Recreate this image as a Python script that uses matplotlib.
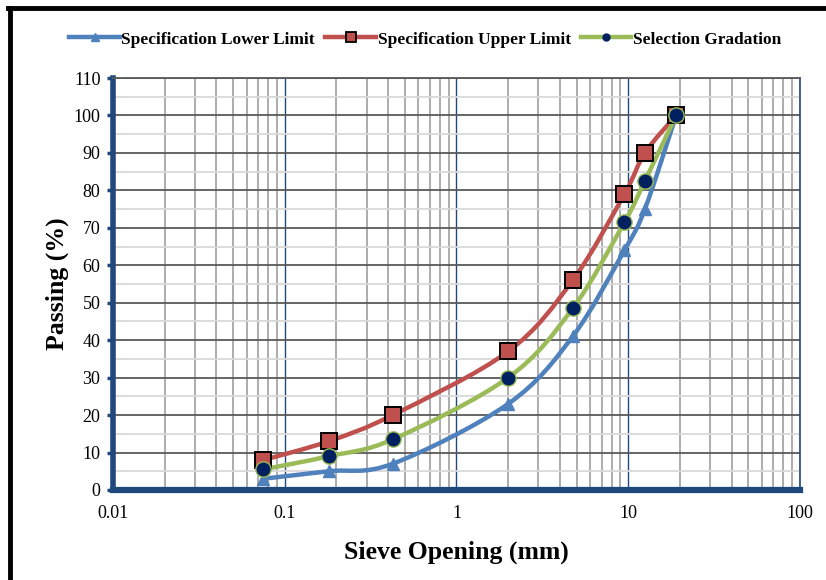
import numpy as np
import matplotlib
matplotlib.use("Agg")
import matplotlib.pyplot as plt
from matplotlib.path import Path
from matplotlib.patches import PathPatch
from matplotlib.lines import Line2D
from matplotlib.ticker import FixedLocator, NullFormatter

plt.rcParams["font.family"] = ["Liberation Serif", "DejaVu Serif"]

# sieve sizes (mm) and percent passing
sieve_mm = [0.075, 0.18, 0.425, 2.0, 4.75, 9.5, 12.5, 19.0]
lower_limit = [3, 5, 7, 23, 41, 64, 75, 100]
upper_limit = [8, 13, 20, 37, 56, 79, 90, 100]
selection = [5.5, 9, 13.5, 30, 48.5, 71.5, 82.5, 100]

series_names = ["Specification Lower Limit", "Specification Upper Limit", "Selection Gradation"]
x_ticks = [0.01, 0.1, 1, 10, 100]
x_tick_labels = ["0.01", "0.1", "1", "10", "100"]
y_ticks = list(range(0, 111, 10))

blue = "#4F81BD"
red = "#C0504D"
green = "#9BBB59"
navy = "#002060"
axis_blue = "#1F497D"

fig = plt.figure(figsize=(8.26, 5.8), dpi=100)
ax = fig.add_axes([0.1368, 0.1552, 0.9685 - 0.1368, 0.8655 - 0.1552])
ax.set_xscale("log")
ax.set_xlim(0.01, 100)
ax.set_ylim(0, 110)


def smooth_curve(xs, ys, color, lw):
    # Excel-style smoothed line: Catmull-Rom converted to cubic Beziers in display space
    pts = ax.transData.transform(np.column_stack([xs, ys]))
    n = len(pts)
    verts = [pts[0]]
    codes = [Path.MOVETO]
    for i in range(n - 1):
        p0 = pts[i - 1] if i > 0 else pts[i]
        p1 = pts[i]
        p2 = pts[i + 1]
        p3 = pts[i + 2] if i + 2 < n else pts[i + 1]
        c1 = p1 + (p2 - p0) / 6.0
        c2 = p2 - (p3 - p1) / 6.0
        verts += [c1, c2, p2]
        codes += [Path.CURVE4] * 3
    verts = ax.transData.inverted().transform(np.array(verts))
    patch = PathPatch(Path(verts, codes), facecolor="none", edgecolor=color,
                      lw=lw, capstyle="round", joinstyle="round", zorder=3)
    ax.add_patch(patch)


smooth_curve(sieve_mm, lower_limit, blue, 3.2)
smooth_curve(sieve_mm, upper_limit, red, 3.2)
smooth_curve(sieve_mm, selection, green, 3.2)

ax.plot(sieve_mm, lower_limit, ls="none", marker="^", ms=9, color=blue, zorder=4)
ax.plot(sieve_mm, upper_limit, ls="none", marker="s", ms=11, mfc=red, mec="black",
        mew=1.4, zorder=4)
ax.plot(sieve_mm, selection, ls="none", marker="o", ms=11, mfc=navy, mec=green,
        mew=1.0, zorder=5)

# grid
minor_x = [m * 10.0 ** e for e in range(-2, 2) for m in range(2, 10)]
ax.xaxis.set_major_locator(FixedLocator(x_ticks))
ax.xaxis.set_minor_locator(FixedLocator(minor_x))
ax.xaxis.set_minor_formatter(NullFormatter())
ax.set_xticklabels(x_tick_labels)
ax.yaxis.set_major_locator(FixedLocator(y_ticks))
ax.yaxis.set_minor_locator(FixedLocator(list(range(5, 110, 10))))

ax.grid(which="major", axis="y", color="#595959", lw=1.3, zorder=1)
ax.grid(which="minor", axis="y", color="#d9d9d9", lw=1.3, zorder=0)
ax.grid(which="major", axis="x", color=axis_blue, lw=1.0, zorder=1)
ax.grid(which="minor", axis="x", color="#a6a6a6", lw=1.3, zorder=1)
ax.set_axisbelow(True)

ax.spines["left"].set_color(axis_blue)
ax.spines["left"].set_linewidth(4)
ax.spines["bottom"].set_color(axis_blue)
ax.spines["bottom"].set_linewidth(4.5)
ax.spines["right"].set_color(axis_blue)
ax.spines["right"].set_linewidth(1.2)
ax.spines["top"].set_color("#595959")
ax.spines["top"].set_linewidth(1.3)

ax.tick_params(axis="y", which="major", length=4, width=2.5, color=axis_blue,
               labelsize=13, pad=5)
ax.tick_params(axis="y", which="minor", length=0)
ax.tick_params(axis="x", which="both", length=0, labelsize=13, pad=11)

ax.set_xlabel("Sieve Opening (mm)", fontsize=18.5, fontweight="bold", labelpad=13)
ax.set_ylabel("Passing (%)", fontsize=18.5, fontweight="bold", labelpad=3)

handles = [
    Line2D([], [], color=blue, lw=3.2, marker="^", ms=6),
    Line2D([], [], color=red, lw=3.2, marker="s", ms=7, mfc=red, mec="black", mew=1.3),
    Line2D([], [], color=green, lw=3.2, marker="o", ms=5, mfc=navy, mec=navy),
]
fig.legend(handles, series_names, loc="center", bbox_to_anchor=(0.515, 0.932),
           ncol=3, frameon=False, handlelength=2.9, handletextpad=0.1,
           columnspacing=0.6, prop={"weight": "bold", "size": 12.5})

# black frame on the left and top
fig.add_artist(Line2D([0.012, 0.012], [0, 0.987], color="black", lw=3.5,
                      transform=fig.transFigure))
fig.add_artist(Line2D([0.010, 1.0], [0.986, 0.986], color="black", lw=3.5,
                      transform=fig.transFigure))

fig.savefig("out.png", dpi=100)
